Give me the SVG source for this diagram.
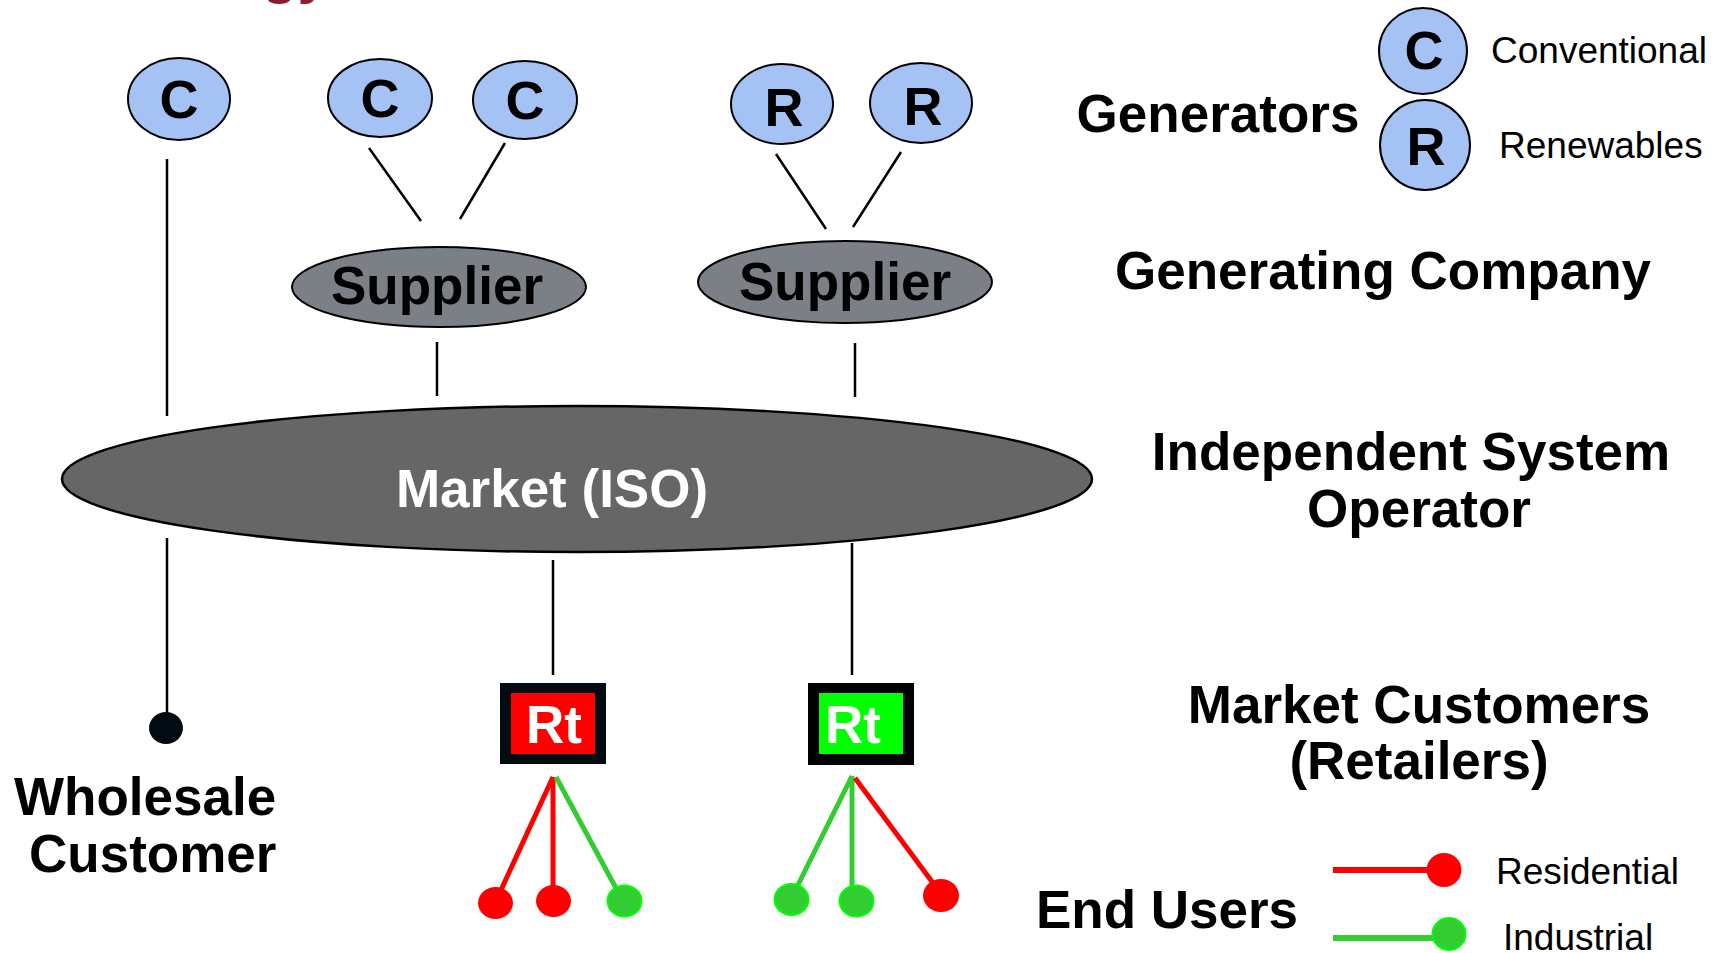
<svg xmlns="http://www.w3.org/2000/svg" width="1723" height="953" viewBox="0 0 1723 953">
<style>
text{font-family:"Liberation Sans",Arial,Helvetica,sans-serif}
.b{font-weight:bold}
.lbl{font-weight:bold;font-size:53px;fill:#000;text-anchor:middle}
.gen{fill:#A4C2F4;stroke:#000;stroke-width:2}
.gl{font-weight:bold;font-size:54px;fill:#000;text-anchor:middle}
.sup{fill:#7B8087;stroke:#000;stroke-width:2}
.con{stroke:#000;stroke-width:2.5;fill:none}
.red{stroke:#FF0000;stroke-width:5;fill:none}
.grn{stroke:#33CC33;stroke-width:5;fill:none}
.rd{fill:#FF0000}
.gd{fill:#33CC33;stroke:#00FF00;stroke-width:2}
.leg{font-size:37px;fill:#000}
.rt{font-weight:bold;font-size:53px;fill:#fff;text-anchor:middle}
</style>
<text x="262" y="-8" class="b" font-size="58" fill="#8A1C2C">gy</text>
<g id="connectors">
<line class="con" x1="167" y1="159" x2="167" y2="416"/>
<line class="con" x1="369" y1="148" x2="421" y2="221"/>
<line class="con" x1="505" y1="143" x2="460" y2="219"/>
<line class="con" x1="776" y1="154" x2="826" y2="229"/>
<line class="con" x1="901" y1="152" x2="853" y2="227"/>
<line class="con" x1="437" y1="342" x2="437" y2="396"/>
<line class="con" x1="855" y1="343" x2="855" y2="397"/>
<line class="con" x1="167" y1="538" x2="167" y2="720"/>
<line class="con" x1="553" y1="560" x2="553" y2="675"/>
<line class="con" x1="852" y1="543" x2="852" y2="675"/>
<line class="red" x1="553" y1="777" x2="501" y2="890"/>
<line class="red" x1="553" y1="777" x2="553" y2="888"/>
<line class="grn" x1="556" y1="777" x2="617" y2="890"/>
<line class="grn" x1="852" y1="776" x2="797" y2="887"/>
<line class="grn" x1="852" y1="776" x2="852" y2="887"/>
<line class="red" x1="855" y1="778" x2="933" y2="883"/>
</g>
<g id="gen-c1"><ellipse class="gen" cx="179" cy="99" rx="51" ry="41"/><text class="gl" x="179" y="118">C</text></g>
<g id="gen-c2"><ellipse class="gen" cx="380" cy="98" rx="52" ry="39"/><text class="gl" x="380" y="117">C</text></g>
<g id="gen-c3"><ellipse class="gen" cx="525" cy="100" rx="52" ry="39"/><text class="gl" x="525" y="119">C</text></g>
<g id="gen-r1"><ellipse class="gen" cx="782" cy="104" rx="51" ry="40"/><text class="gl" x="784" y="126">R</text></g>
<g id="gen-r2"><ellipse class="gen" cx="921" cy="103" rx="51" ry="40"/><text class="gl" x="923" y="125">R</text></g>
<g id="supplier1"><ellipse class="sup" cx="439" cy="287" rx="147" ry="40"/><text class="lbl" x="437" y="304" font-size="51">Supplier</text></g>
<g id="supplier2"><ellipse class="sup" cx="845" cy="282" rx="147" ry="41"/><text class="lbl" x="845" y="300" font-size="51">Supplier</text></g>
<g id="market"><ellipse cx="577" cy="479" rx="515" ry="73" fill="#666666" stroke="#000" stroke-width="2.5"/><text class="rt" x="552" y="507">Market (ISO)</text></g>
<g id="wholesale"><ellipse cx="166" cy="728" rx="17" ry="16" fill="#020A12"/>
<text class="b" font-size="53" x="14" y="815">Wholesale</text>
<text class="b" font-size="53" x="29" y="872">Customer</text></g>
<g id="retailer1"><rect x="500" y="683" width="106" height="81" fill="#020A12"/><rect x="511" y="693" width="84" height="61" fill="#FF0000"/><text class="rt" x="554" y="743" font-size="52">Rt</text></g>
<g id="retailer2"><rect x="808" y="683" width="106" height="82" fill="#000"/><rect x="819" y="693" width="84" height="61" fill="#00FF00"/><text class="rt" x="853" y="743" font-size="52">Rt</text></g>
<g id="endusers1">
<ellipse class="rd" cx="495.5" cy="903" rx="17.5" ry="16"/>
<ellipse class="rd" cx="553.5" cy="901" rx="17.5" ry="16"/>
<ellipse class="gd" cx="624.5" cy="901" rx="17" ry="15.5"/>
</g>
<g id="endusers2">
<ellipse class="gd" cx="791.5" cy="899.5" rx="17" ry="15.5"/>
<ellipse class="gd" cx="856.5" cy="901" rx="17" ry="15.5"/>
<ellipse class="rd" cx="941" cy="895.5" rx="18" ry="16.5"/>
</g>
<g id="legend-gen">
<ellipse class="gen" cx="1423" cy="51" rx="44" ry="43"/><text class="gl" x="1424" y="69" font-size="52">C</text>
<ellipse class="gen" cx="1425" cy="145" rx="45" ry="45"/><text class="gl" x="1426" y="165" font-size="54">R</text>
<text class="leg" x="1491" y="63">Conventional</text>
<text class="leg" x="1499" y="158">Renewables</text>
</g>
<g id="legend-users">
<line x1="1333" y1="870" x2="1432" y2="870" stroke="#FF0000" stroke-width="6"/>
<ellipse class="rd" cx="1444" cy="870" rx="17.5" ry="17"/>
<line x1="1333" y1="938" x2="1436" y2="938" stroke="#33CC33" stroke-width="6"/>
<ellipse class="gd" cx="1449" cy="934" rx="16.5" ry="16"/>
<text class="leg" x="1496" y="884">Residential</text>
<text class="leg" x="1503" y="950">Industrial</text>
</g>
<g id="layer-labels">
<text class="lbl" x="1218" y="132">Generators</text>
<text class="lbl" x="1383" y="289">Generating Company</text>
<text class="lbl" x="1411" y="470">Independent System</text>
<text class="lbl" x="1419" y="527">Operator</text>
<text class="lbl" x="1419" y="723">Market Customers</text>
<text class="lbl" x="1419" y="779">(Retailers)</text>
<text class="lbl" x="1167" y="928">End Users</text>
</g>
</svg>
